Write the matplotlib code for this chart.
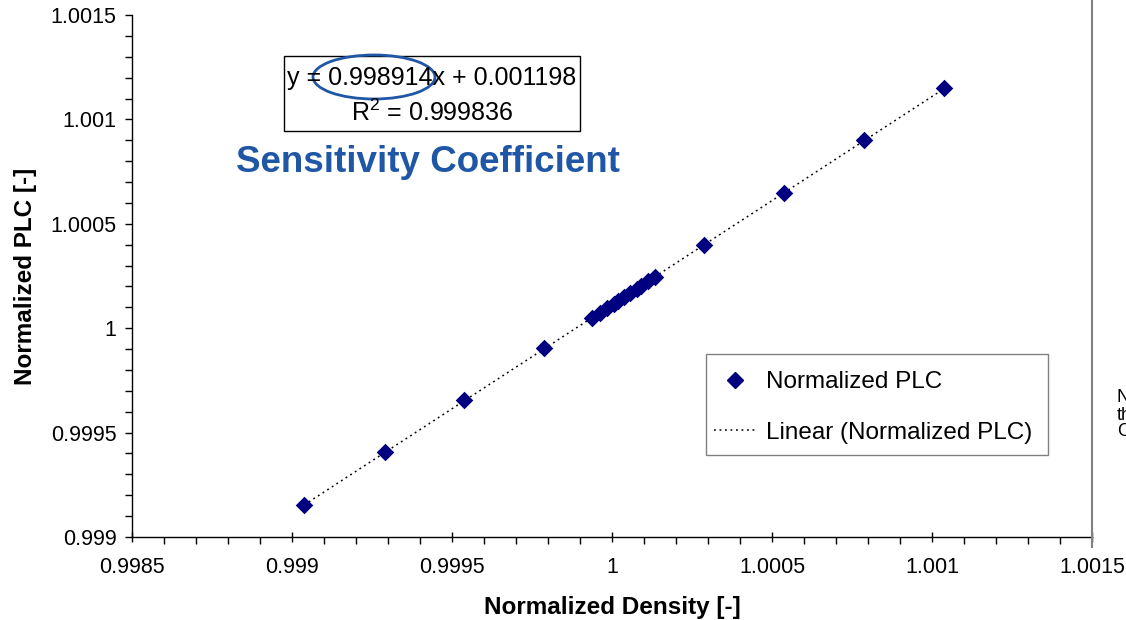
import numpy as np
import matplotlib.pyplot as plt
from matplotlib.patches import Ellipse, Rectangle
from matplotlib.lines import Line2D
from matplotlib.ticker import MultipleLocator

plt.rcParams['font.family'] = ['Liberation Sans', 'DejaVu Sans']
plt.rcParams['mathtext.fontset'] = 'custom'
plt.rcParams['mathtext.rm'] = 'Liberation Sans'
plt.rcParams['mathtext.it'] = 'Liberation Sans'

# normalized density / normalized PLC
density = [0.999038, 0.999290, 0.999538, 0.999788, 0.999938, 0.999963,
           0.999984, 1.000006, 1.000019, 1.000038, 1.000056, 1.000078,
           1.000091, 1.000113, 1.000134, 1.000288, 1.000538, 1.000788,
           1.001038]
plc = [0.999153, 0.999405, 0.999654, 0.999903, 1.000050, 1.000075,
       1.000096, 1.000118, 1.000131, 1.000150, 1.000168, 1.000190,
       1.000203, 1.000225, 1.000246, 1.000399, 1.000649, 1.000899,
       1.001148]

x_ticks = [0.9985, 0.999, 0.9995, 1, 1.0005, 1.001, 1.0015]
x_labels = ['0.9985', '0.999', '0.9995', '1', '1.0005', '1.001', '1.0015']
y_ticks = [0.999, 0.9995, 1, 1.0005, 1.001, 1.0015]
y_labels = ['0.999', '0.9995', '1', '1.0005', '1.001', '1.0015']

NAVY = '#000080'
BLUE = '#1F56A6'
W, H = 1126, 620

fig = plt.figure(figsize=(11.26, 6.2), dpi=100, facecolor='white')
ax = fig.add_axes([132 / W, 83 / H, 960 / W, 522 / H])

# trendline over the data range
k, b = np.polyfit(density, plc, 1)
xs = np.array([min(density), max(density)])
ax.plot(xs, k * xs + b, color='black', lw=1.1, ls=(0, (1.2, 2.4)), zorder=2)
ax.scatter(density, plc, marker='D', s=80, color=NAVY, zorder=3, linewidths=0)

ax.set_xlim(0.9985, 1.0015)
ax.set_ylim(0.999, 1.0015)
ax.set_xticks(x_ticks)
ax.set_yticks(y_ticks)
ax.set_xticklabels(x_labels)
ax.set_yticklabels(y_labels)
ax.xaxis.set_minor_locator(MultipleLocator(0.0001))
ax.yaxis.set_minor_locator(MultipleLocator(0.0001))
ax.tick_params(axis='both', which='major', labelsize=15.5, length=7, width=1,
               color='black')
ax.tick_params(axis='x', which='major', direction='inout', pad=11)
ax.tick_params(axis='y', which='major', direction='out', length=5, pad=6)
ax.tick_params(axis='both', which='minor', length=5, width=1, direction='out')
for s in ['top', 'right']:
    ax.spines[s].set_visible(False)
for s in ['left', 'bottom']:
    ax.spines[s].set_linewidth(1.0)

ax.set_xlabel('Normalized Density [-]', fontsize=17.5, fontweight='bold')
ax.set_ylabel('Normalized PLC [-]', fontsize=17.5, fontweight='bold')
ax.xaxis.set_label_coords(0.5, (537 - 596) / 522)
ax.yaxis.set_label_coords((37 - 132) / 960, 0.5)

# equation box
fig.patches.append(Rectangle((284 / W, 1 - 131 / H), 296 / W, 75 / H,
                             transform=fig.transFigure, fill=False,
                             edgecolor='black', lw=1.0))
fig.text(432 / W, 1 - 78 / H, 'y = 0.998914x + 0.001198', ha='center',
         va='center', fontsize=18)
fig.text(432 / W, 1 - 113 / H, r'R$^{2}$ = 0.999836', ha='center',
         va='center', fontsize=18)
fig.patches.append(Ellipse((374 / W, 1 - 77 / H), 122 / W, 44 / H,
                           transform=fig.transFigure, fill=False,
                           edgecolor=BLUE, lw=2))
fig.text(428 / W, 1 - 163 / H, 'Sensitivity Coefficient', ha='center',
         va='center', fontsize=26.5, fontweight='bold', color=BLUE)

# legend: frame drawn separately so its padding can match
fig.patches.append(Rectangle((706 / W, 1 - 455 / H), 342 / W, 101 / H,
                             transform=fig.transFigure, facecolor='white',
                             edgecolor='#808080', lw=1.0, zorder=4))
handles = [Line2D([], [], ls='none', marker='D', ms=8, color=NAVY),
           Line2D([], [], color='black', lw=1.1, ls=(0, (1.2, 2.4)))]
leg = fig.legend(handles, ['Normalized PLC', 'Linear (Normalized PLC)'],
                 loc='upper left', bbox_to_anchor=(714 / W, 1 - 371 / H),
                 bbox_transform=fig.transFigure, fontsize=17.5, frameon=False,
                 labelspacing=1.18, handlelength=1.7, borderpad=0,
                 handletextpad=0.45, borderaxespad=0)
leg.set_zorder(5)

# cropped neighbouring text box at the right edge
fig.add_artist(Line2D([1092 / W, 1092 / W], [1 - 547 / H, 1.0],
                      transform=fig.transFigure, color='#808080', lw=1.5))
for txt, yy in [('N', 398), ('th', 415), ('C', 432)]:
    fig.text(1117 / W, 1 - yy / H, txt, ha='left', va='center', fontsize=13)

fig.savefig('out.png', dpi=100)
